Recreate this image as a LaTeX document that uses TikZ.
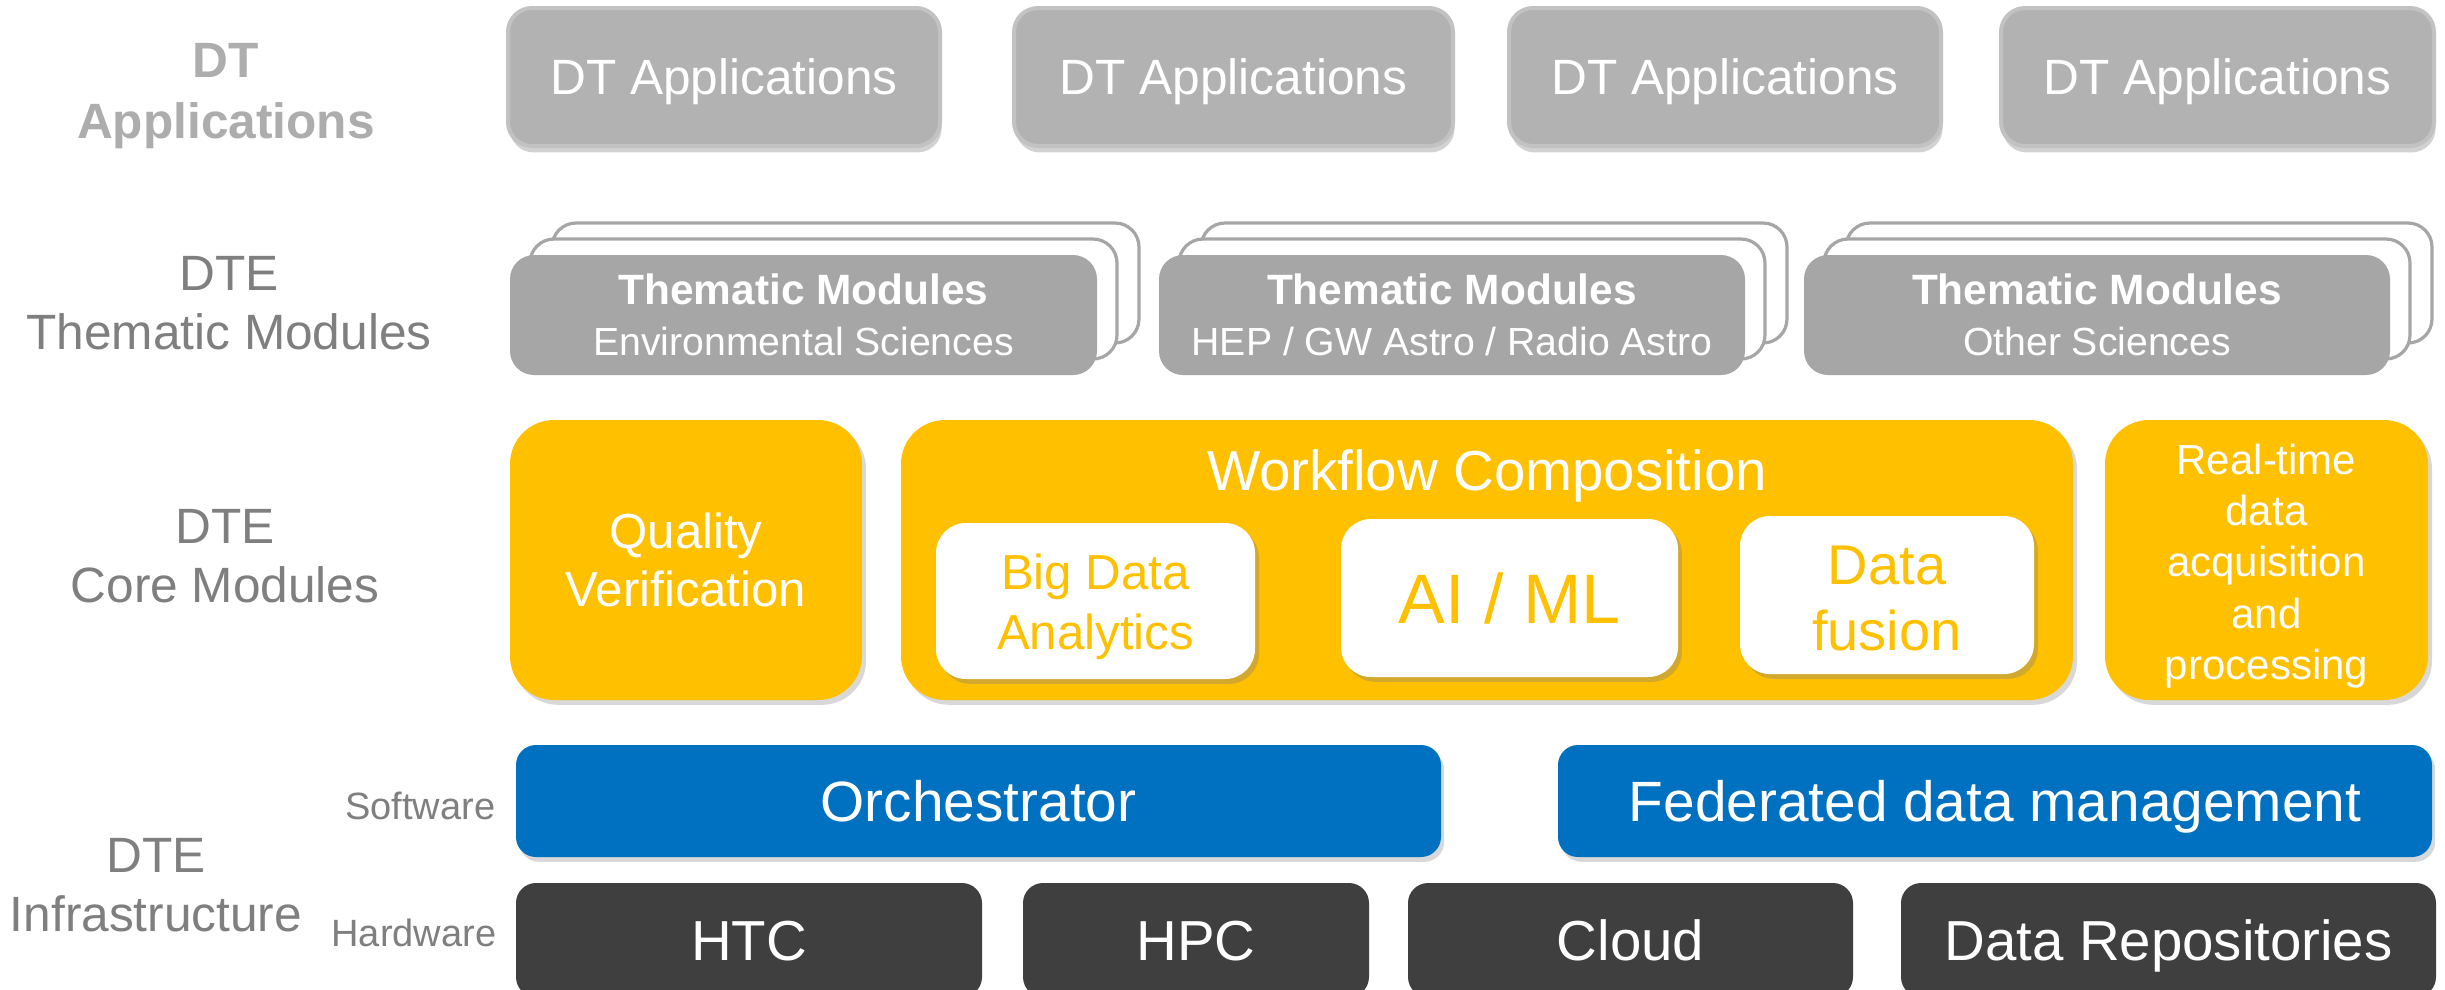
\documentclass[tikz,border=0pt]{standalone}
\usepackage{fontspec}
\setmainfont{Liberation Sans}
\usetikzlibrary{shadows}
\definecolor{appgray}{HTML}{B2B2B2}
\definecolor{appborder}{HTML}{C2C2C2}
\definecolor{tmgray}{HTML}{A6A6A6}
\definecolor{ylw}{HTML}{FFC000}
\definecolor{blu}{HTML}{0070C0}
\definecolor{drk}{HTML}{3F3F3F}
\definecolor{lblgray}{HTML}{7F7F7F}
\definecolor{lbllight}{HTML}{ADADAD}
\newcommand\fsz[2]{\fontsize{#1}{#2}\selectfont}
\newcommand\bx[7]{\node[#6, minimum width={(#4-#2)*0.25pt}, minimum height={(#5-#3)*0.25pt}] (#1) at ({(#2+#4)/2},{(#3+#5)/2}) {#7};}
\tikzset{
  base/.style={inner sep=0pt, outer sep=0pt, align=center, text=white},
  appbox/.style={base, fill=appgray, draw=appborder, line width=1pt, rounded corners=6pt,
     drop shadow={shadow xshift=0.4pt, shadow yshift=-1.6pt, opacity=0.35}, font=\fsz{12.4}{14.9},
     text height=8.9pt, text depth=0pt},
  tmfront/.style={base, fill=tmgray, rounded corners=6pt, font=\fsz{9.8}{12}},
  tmback/.style={base, fill=white, draw=tmgray, line width=0.8pt, rounded corners=6pt},
  ybig/.style={base, fill=ylw, rounded corners=11pt,
     drop shadow={shadow xshift=1pt, shadow yshift=-1.2pt, opacity=0.3}},
  winner/.style={base, fill=white, text=ylw, rounded corners=7.5pt,
     drop shadow={shadow xshift=1pt, shadow yshift=-1.2pt, opacity=0.35}},
  ytext/.style={inner sep=0pt, align=center, text=ylw},
  wtext/.style={inner sep=0pt, align=center, text=white},
  bluebox/.style={base, fill=blu, rounded corners=5pt, font=\fsz{14.2}{17},
     drop shadow={shadow xshift=0.8pt, shadow yshift=-1.2pt, opacity=0.3},
     text height=10.2pt, text depth=0pt},
  hwbox/.style={base, fill=drk, rounded corners=5pt, font=\fsz{14.1}{17},
     text height=10.1pt, text depth=0pt},
  lbl/.style={inner sep=0pt, align=center, text=lblgray, font=\fsz{12.4}{14.8}},
  small/.style={inner sep=0pt, text=lblgray, font=\fsz{9.5}{11}},
}
\begin{document}
\begin{tikzpicture}[x=0.25pt, y=-0.25pt]
\useasboundingbox (0,0) rectangle (2445,989);
\clip (0,0) rectangle (2445,989);
\fill[white] (0,0) rectangle (2445,989);

% left labels
\node[lbl, text=lbllight, font=\bfseries\fsz{12.4}{15.2}] (lapp) at (226,96) {DT\\Applications};
\node[lbl] (ltm) at (229,303) {DTE\\Thematic Modules};
\node[lbl] (lcore) at (225,556) {DTE\\Core Modules};
\node[lbl] (linf) at (156,885) {DTE\\Infrastructure};
\node[small, anchor=east] (lsw) at (496,806) {Software};
\node[small, anchor=east] (lhw) at (497,933) {Hardware};

% DT applications
\bx{app1}{508}{8}{940}{146}{appbox}{DT Applications}
\bx{app2}{1014}{8}{1453}{146}{appbox}{DT Applications}
\bx{app3}{1509}{8}{1941}{146}{appbox}{DT Applications}
\bx{app4}{2001}{8}{2434}{146}{appbox}{DT Applications}

% Thematic modules
\bx{tm1b2}{552}{223}{1139}{343}{tmback}{}
\bx{tm1b1}{530}{239}{1117}{359}{tmback}{}
\bx{tm1}{510}{255}{1097}{375}{tmfront}{{\bfseries\fsz{10.6}{12}Thematic Modules}\\[0.6pt]Environmental Sciences}
\bx{tm2b2}{1201}{223}{1787}{343}{tmback}{}
\bx{tm2b1}{1179}{239}{1765}{359}{tmback}{}
\bx{tm2}{1159}{255}{1745}{375}{tmfront}{{\bfseries\fsz{10.6}{12}Thematic Modules}\\[0.6pt]HEP / GW Astro / Radio Astro}
\bx{tm3b2}{1846}{223}{2432}{343}{tmback}{}
\bx{tm3b1}{1824}{239}{2410}{359}{tmback}{}
\bx{tm3}{1804}{255}{2390}{375}{tmfront}{{\bfseries\fsz{10.6}{12}Thematic Modules}\\[0.6pt]Other Sciences}

% Core modules
\bx{qv}{510}{420}{862}{700}{ybig, font=\fsz{12.3}{14.5}}{Quality\\Verification}
\bx{wf}{901}{420}{2073}{700}{ybig}{}
\node[base, font=\fsz{14.1}{17}, text height=10.1pt, text depth=0pt] (wft) at (1487,470) {Workflow Composition};
\bx{bda}{936}{523}{1255}{679}{winner}{}
\node[ytext, font=\fsz{12.3}{15}] (bdat) at ([yshift=-1.5pt]bda.center) {Big Data\\Analytics};
\bx{aiml}{1341}{519}{1678}{677}{winner, font=\fsz{17.5}{20}, text height=12.6pt, text depth=0pt}{AI / ML}
\bx{fus}{1740}{516}{2034}{674}{winner}{}
\node[ytext, font=\fsz{14}{16.5}] (fust) at ([yshift=-0.8pt]fus.center) {Data\\fusion};
\bx{rt}{2105}{420}{2428}{700}{ybig}{}
\node[wtext, font=\fsz{10.5}{12.8}] (rtt) at ([yshift=-1.5pt]rt.center) {Real-time\\data\\acquisition\\and\\processing};

% Software
\bx{orch}{516}{745}{1441}{857}{bluebox}{Orchestrator}
\bx{fdm}{1558}{745}{2432}{857}{bluebox}{Federated data management}

% Hardware
\bx{htc}{516}{883}{982}{997}{hwbox}{HTC}
\bx{hpc}{1023}{883}{1369}{997}{hwbox}{HPC}
\bx{cloud}{1408}{883}{1853}{997}{hwbox}{Cloud}
\bx{repo}{1901}{883}{2436}{997}{hwbox}{Data Repositories}
\end{tikzpicture}
\end{document}
